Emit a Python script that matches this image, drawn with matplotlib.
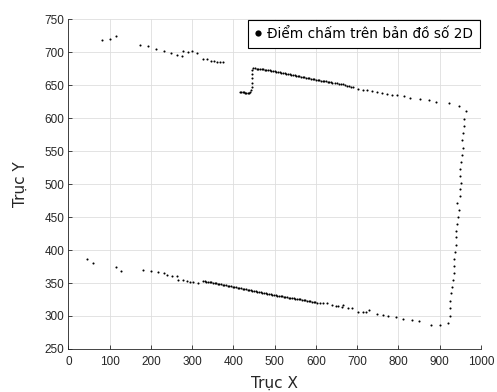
import matplotlib
matplotlib.use("Agg")
import matplotlib.pyplot as plt

# ---- data (X, Y map coordinates) ----
top_left_x = [81, 101, 114, 174, 193, 213, 232, 249, 264, 275, 278, 290, 300, 311, 325, 336, 345, 353, 360, 367, 374]
top_left_y = [718, 720, 725, 711, 709, 705, 702, 698, 696, 694, 701, 700, 701, 698, 690, 689, 687, 686, 685, 685, 685]

step_x = [416, 419, 422, 425, 428, 431, 434, 437, 440, 443, 444, 445, 445, 446, 446]
step_y = [640, 639.5, 639.5, 639, 638.5, 638.5, 638, 638.5, 639, 642, 647, 653, 660, 666, 672]

top_dense_x = [448, 452, 456, 460, 464, 468, 472, 476, 480, 484, 488, 492, 496, 500, 504, 508,
               512, 516, 520, 524, 528, 532, 536, 540, 544, 548, 552, 556, 560, 564, 568, 572,
               576, 580, 584, 588, 592, 596, 600, 604, 608, 612, 616, 620, 624, 628, 632, 636,
               640, 645, 650, 655, 660, 665, 670, 675, 680, 685, 690]
top_dense_y = [676, 675.5, 675, 674.5, 674.5, 674, 673.5, 673, 672.5, 672, 672, 671.5, 671, 670.5, 670, 669.5,
               669, 668.5, 668, 667.5, 667, 666.5, 666, 665.5, 665, 664.5, 664, 663.5, 663, 662.5, 662, 661.5,
               661, 660.5, 660, 659.5, 659, 658.5, 658, 657.5, 657, 656.5, 656, 655.5, 655.5, 655, 654.5, 654,
               653.5, 653, 652.5, 652, 651.5, 651, 650, 649, 648.5, 647.5, 646.5]

top_right_x = [703, 715, 724, 735, 747, 759, 771, 784, 797, 813, 828, 851, 873, 890, 923, 947, 963]
top_right_y = [644.5, 643, 642, 641, 639.5, 638, 637, 635.5, 634.5, 633, 631, 629, 627, 624, 622, 617.5, 611]

right_x = [959.5, 959.5, 956.5, 954, 955.5, 954.5, 951, 949, 950, 951.5, 948.5, 950, 942, 946.5, 944,
           942.5, 940, 940, 938.5, 937, 934.5, 934, 935, 933, 929.5, 927.5, 925.5, 924, 925, 920]
right_y = [598.5, 588, 577, 566, 554.5, 543.5, 533, 522, 511.5, 502, 492, 482, 471, 460.5, 450,
           439.5, 429.5, 419, 407.5, 397, 387, 376, 365.5, 354.5, 344.5, 334.5, 322.5, 311.5, 300, 290]

bottom_right_x = [901, 880, 850, 832, 812, 794, 775, 762, 747, 729, 722, 713, 703, 688, 678, 666,
                  662, 654, 648, 638, 626, 618, 610, 602]
bottom_right_y = [287, 287, 293, 293.5, 296, 299, 300.5, 301.5, 303, 308.5, 306.5, 306.5, 306.5, 311.5, 312.5, 317,
                  314, 315.5, 315.5, 317, 319, 319, 319.5, 319]

bottom_dense_x = [598, 594, 590, 586, 582, 578, 574, 570, 566, 562, 558, 554, 550, 546, 542, 538, 534, 530,
                  526, 522, 518, 514, 510, 506, 502, 498, 494, 490, 486, 482, 478, 474, 470, 466, 462, 458,
                  454, 450, 446, 442, 438, 434, 430, 426, 422, 418, 414, 410, 406, 402, 398, 394, 390, 386,
                  382, 378, 374, 370, 366, 362, 358, 354, 350, 346, 342, 338, 334, 330, 326]
bottom_dense_y = [320.5, 321, 321.5, 322, 322.5, 323, 323.5, 324, 324.5, 325, 325.5, 326, 326.5, 327, 327, 327.5, 328, 328.5,
                  329, 329.5, 330, 330.5, 331, 331, 331.5, 332, 332.5, 333, 333.5, 334, 334.5, 335, 335.5, 336, 336.5, 337,
                  337.5, 338, 338.5, 339, 339.5, 340, 340.5, 341, 341.5, 342, 342.5, 343, 343.5, 344, 344.5, 345, 345.5, 346,
                  346.5, 347, 347.5, 348, 348.5, 349, 349.5, 350, 350.5, 351, 351.5, 352, 352, 352.5, 353.5]

bottom_left_x = [315, 303, 295, 287, 278, 266, 262, 251, 239, 231, 217, 201, 181, 127, 114, 60, 44]
bottom_left_y = [350.5, 351, 351, 352.5, 354.5, 355, 361, 361, 362.5, 365.5, 367, 368.5, 369, 368.5, 374, 380, 386.5]

x_ticks = [0, 100, 200, 300, 400, 500, 600, 700, 800, 900, 1000]
y_ticks = [250, 300, 350, 400, 450, 500, 550, 600, 650, 700, 750]
legend_label = "Điểm chấm trên bản đồ số 2D"
x_label = "Trục X"
y_label = "Trục Y"

xs = (top_left_x + step_x + top_dense_x + top_right_x + right_x + bottom_right_x
      + bottom_dense_x + bottom_left_x)
ys = (top_left_y + step_y + top_dense_y + top_right_y + right_y + bottom_right_y
      + bottom_dense_y + bottom_left_y)

fig = plt.figure(figsize=(4.97, 3.92), dpi=100)
ax = fig.add_axes([0.1378, 0.1097, 0.830, 0.8418])

ax.plot(xs, ys, linestyle="none", marker="o", markersize=1.5, color="black",
        markeredgewidth=0, label=legend_label)

ax.set_xlim(0, 1000)
ax.set_ylim(250, 750)
ax.set_xticks(x_ticks)
ax.set_yticks(y_ticks)
ax.grid(True, color="#dedede", linewidth=0.6)
ax.set_axisbelow(True)

tick_col = "#262626"
for s in ["top", "right"]:
    ax.spines[s].set_visible(False)
for s in ["left", "bottom"]:
    ax.spines[s].set_color(tick_col)
    ax.spines[s].set_linewidth(0.6)
ax.tick_params(direction="in", length=3, width=0.6, color=tick_col,
               labelcolor=tick_col, labelsize=8.5)
ax.tick_params(axis="x", pad=5)
ax.tick_params(axis="y", pad=3)
for lab in ax.get_xticklabels() + ax.get_yticklabels():
    lab.set_family("Liberation Sans")

ax.set_xlabel(x_label, fontsize=11, color=tick_col, labelpad=6)
ax.set_ylabel(y_label, fontsize=11, color=tick_col, labelpad=12)

leg = ax.legend(loc="upper right", bbox_to_anchor=(1.0, 1.0), borderaxespad=0.1,
                fancybox=False, edgecolor="black", framealpha=1, fontsize=9.8,
                handlelength=0.5, handletextpad=0.4, markerscale=3.0,
                borderpad=0.5, borderaxespad_=None) if False else ax.legend(
                loc="upper right", bbox_to_anchor=(1.0, 1.0), borderaxespad=0.1,
                fancybox=False, edgecolor="black", framealpha=1, fontsize=9.8,
                handlelength=0.5, handletextpad=0.4, markerscale=3.0,
                borderpad=0.5)
leg.get_frame().set_linewidth(0.8)

fig.savefig("out.png", dpi=100)
